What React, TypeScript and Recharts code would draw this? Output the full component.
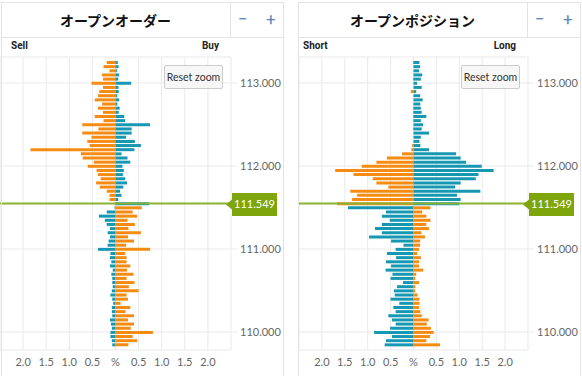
import { BarChart, Bar, XAxis, YAxis, CartesianGrid, ReferenceLine, Cell } from 'recharts';

// price buckets, top to bottom
const prices = [
  113.25, 113.2, 113.15, 113.1, 113.05, 113.0, 112.95, 112.9, 112.85, 112.8,
  112.75, 112.7, 112.65, 112.6, 112.55, 112.5, 112.45, 112.4, 112.35, 112.3,
  112.25, 112.2, 112.15, 112.1, 112.05, 112.0, 111.95, 111.9, 111.85, 111.8,
  111.75, 111.7, 111.65, 111.6, 111.55, 111.5, 111.45, 111.4, 111.35, 111.3,
  111.25, 111.2, 111.15, 111.1, 111.05, 111.0, 110.95, 110.9, 110.85, 110.8,
  110.75, 110.7, 110.65, 110.6, 110.55, 110.5, 110.45, 110.4, 110.35, 110.3,
  110.25, 110.2, 110.15, 110.1, 110.05, 110.0, 109.95, 109.9, 109.85,
];

const currentPrice = 111.549;

// open orders (%)
const orderSell = [
  0.19, 0.26, 0.13, 0.29, 0.27, 0.52, 0.27, 0.35, 0.38, 0.45,
  0.29, 0.38, 0.27, 0.45, 0.26, 0.72, 0.37, 0.72, 0.52, 0.61,
  0.56, 1.84, 0.75, 0.71, 0.47, 0.6, 0.41, 0.38, 0.32, 0.42,
  0.34, 0.19, 0.13, 0.13, 0.02, 0.02, 0.19, 0.36, 0.23, 0.19,
  0.12, 0.17, 0.12, 0.15, 0.17, 0.38, 0.11, 0.12, 0.09, 0.12,
  0.06, 0.09, 0.07, 0.07, 0.06, 0.08, 0.11, 0.07, 0.05, 0.08,
  0.08, 0.07, 0.12, 0.1, 0.08, 0.11, 0.11, 0.08, 0.07,
];
const orderBuy = [
  0.05, 0.065, 0.03, 0.08, 0.06, 0.34, 0.065, 0.07, 0.04, 0.08,
  0.04, 0.09, 0.07, 0.19, 0.21, 0.75, 0.35, 0.35, 0.23, 0.42,
  0.55, 0.41, 0.13, 0.26, 0.32, 0.15, 0.18, 0.16, 0.21, 0.25,
  0.17, 0.1, 0.13, 0.06, 0.73, 0.57, 0.37, 0.47, 0.26, 0.42,
  0.28, 0.55, 0.27, 0.4, 0.23, 0.75, 0.21, 0.24, 0.24, 0.32,
  0.25, 0.39, 0.24, 0.41, 0.29, 0.5, 0.24, 0.27, 0.11, 0.32,
  0.22, 0.4, 0.27, 0.4, 0.33, 0.81, 0.37, 0.47, 0.28,
];

// open positions (%)
const posShort = [
  0.01, 0, 0, 0, 0.01, 0, 0, 0.06, 0, 0,
  0, 0.01, 0.01, 0.01, 0.01, 0, 0.01, 0, 0, 0,
  0.03, 0.05, 0.25, 0.58, 0.81, 1.13, 1.71, 1.31, 0.89, 0.81,
  0.55, 1.38, 1.23, 1.34, 1.67, 1.43, 0.6, 0.69, 0.52, 0.69,
  0.84, 0.69, 0.97, 0.49, 0.22, 0.39, 0.58, 0.38, 0.6, 0.49,
  0.61, 0.46, 0.5, 0.23, 0.36, 0.43, 0.41, 0.5, 0.31, 0.44,
  0.39, 0.55, 0.47, 0.39, 0.51, 0.86, 0.47, 0.6, 0.63,
];
const posLong = [
  0.13, 0.145, 0.12, 0.19, 0.16, 0.08, 0.18, 0.06, 0.145, 0.2,
  0.15, 0.16, 0.18, 0.28, 0.16, 0.21, 0.18, 0.34, 0.16, 0.13,
  0.15, 0.34, 0.93, 1.03, 1.15, 1.49, 1.75, 1.42, 1.36, 1.03,
  0.91, 1.46, 0.95, 1.03, 1.0, 0.37, 0.19, 0.28, 0.37, 0.28,
  0.34, 0.17, 0.25, 0.145, 0.145, 0.12, 0.08, 0.16, 0.12, 0.12,
  0.21, 0.06, 0.04, 0.12, 0.04, 0.04, 0.09, 0.13, 0.13, 0.12,
  0.15, 0.18, 0.33, 0.29, 0.38, 0.44, 0.36, 0.28, 0.58,
];

const xTicks = [-2.5, -2, -1.5, -1, -0.5, 0, 0.5, 1, 1.5, 2, 2.5];
const yTicks = [110, 111, 112, 113];

const ORANGE = '#f68b12';
const BLUE = '#1698b2';
const GREEN = '#8ab235';
const TAG = '#7ea60c';
const GRID = '#e9e9e9';

const PriceTag = (props: any) => {
  const { viewBox } = props;
  const x = viewBox.x + viewBox.width;
  const y = viewBox.y + 1;
  return (
    <g>
      <path
        d={`M${x - 5},${y} L${x + 1},${y - 5} L${x + 1},${y - 11.5} L${x + 46},${y - 11.5} L${x + 46},${y + 11.5} L${x + 1},${y + 11.5} L${x + 1},${y + 5} Z`}
        fill={TAG}
      />
      <text x={x + 23.5} y={y + 4} textAnchor="middle" fill="#fff" fontSize={11} fontFamily="Lato, sans-serif">
        {currentPrice.toFixed(3)}
      </text>
    </g>
  );
};

const fmtX = (v: number) => (Math.abs(v) === 2.5 ? '' : v === 0 ? '%' : Math.abs(v).toFixed(1));

interface PanelProps {
  left: number;
  title: string;
  leftLabel: string;
  rightLabel: string;
  leftValues: number[];
  rightValues: number[];
}

const Panel = ({ left, title, leftLabel, rightLabel, leftValues, rightValues }: PanelProps) => {
  const data = prices.map((p, i) => ({ price: p, l: -leftValues[i], r: rightValues[i] }));
  const plotRight = left + 231;
  return (
    <>
      <div style={{ position: 'absolute', left: left, top: 0 }}>
        <BarChart
          width={285}
          height={376}
          data={data}
          layout="vertical"
          stackOffset="sign"
          margin={{ top: 57, right: 0, bottom: 0, left: left === 0 ? 0 : 2 }}
        >
          <CartesianGrid yAxisId="num" stroke={GRID} />
          <XAxis
            type="number"
            domain={[-2.5, 2.5]}
            allowDataOverflow
            ticks={xTicks}
            tickFormatter={fmtX}
            axisLine={false}
            tickLine={false}
            height={26}
            interval={0}
            tick={{ fill: '#666', fontSize: 11, fontFamily: 'Lato, sans-serif' }}
          />
          <YAxis yAxisId="cat" type="category" dataKey="price" hide padding={{ top: 3, bottom: 3.5 }} />
          <YAxis
            yAxisId="num"
            type="number"
            dataKey="price"
            scale="linear"
            reversed
            orientation="right"
            domain={[109.783, 113.313]}
            allowDataOverflow
            ticks={yTicks}
            interval={0}
            tickFormatter={(v: number) => v.toFixed(3)}
            axisLine={false}
            tickLine={{ stroke: GRID }}
            tickSize={6}
            tickMargin={3}
            width={54}
            tick={{ fill: '#666', fontSize: 11, fontFamily: 'Lato, sans-serif', textAnchor: 'start' }}
          />
          <Bar dataKey="l" stackId="s" yAxisId="cat" barSize={3} isAnimationActive={false}>
            {data.map((d) => (
              <Cell key={d.price} fill={d.price > currentPrice ? ORANGE : BLUE} />
            ))}
          </Bar>
          <Bar dataKey="r" stackId="s" yAxisId="cat" barSize={3} isAnimationActive={false}>
            {data.map((d) => (
              <Cell key={d.price} fill={d.price > currentPrice ? BLUE : ORANGE} />
            ))}
          </Bar>
          <ReferenceLine yAxisId="num" y={currentPrice} stroke={GREEN} strokeWidth={2} label={PriceTag} />
        </BarChart>
      </div>

      {/* panel frame and header */}
      <div style={{ position: 'absolute', left: left + 1, top: 2, width: 283, height: 400, border: '1px solid #e3e3e3', boxSizing: 'border-box', pointerEvents: 'none' }} />
      <div style={{ position: 'absolute', left: left + 1, top: 37, width: 283, height: 1, background: '#e3e3e3' }} />
      <div style={{ position: 'absolute', left: plotRight - 1, top: 2, width: 1, height: 35, background: '#e3e3e3' }} />
      <div
        style={{
          position: 'absolute', left: left + 1, top: 2, width: plotRight - left - 2, height: 35,
          display: 'flex', alignItems: 'center', justifyContent: 'center',
          fontFamily: '"Noto Sans CJK JP", sans-serif', fontWeight: 700, fontSize: 14, color: '#111',
        }}
      >
        {title}
      </div>
      <div style={{ position: 'absolute', left: plotRight + 7, top: 9, fontSize: 17, color: '#5a86b8', fontFamily: 'Roboto, sans-serif' }}>−</div>
      <div style={{ position: 'absolute', left: plotRight + 35, top: 9, fontSize: 17, color: '#5a86b8', fontFamily: 'Roboto, sans-serif' }}>+</div>
      <div style={{ position: 'absolute', left: left + (left === 0 ? 11 : 6), top: 40, fontSize: 10, fontWeight: 700, color: '#222', fontFamily: 'Roboto, sans-serif' }}>{leftLabel}</div>
      <div style={{ position: 'absolute', left: plotRight - 12, top: 40, fontSize: 10, fontWeight: 700, color: '#222', fontFamily: 'Roboto, sans-serif', transform: 'translateX(-100%)' }}>{rightLabel}</div>
      <div
        style={{
          position: 'absolute', left: plotRight - 67, top: 65, width: 59, height: 24, boxSizing: 'border-box',
          background: '#f7f7f7', border: '1px solid #cccccc', borderRadius: 2,
          display: 'flex', alignItems: 'center', justifyContent: 'center',
          fontSize: 10.5, color: '#333', fontFamily: 'Lato, sans-serif',
        }}
      >
        Reset zoom
      </div>
    </>
  );
};

export default function App() {
  return (
    <div style={{ position: 'absolute', left: 0, top: 0, width: 582, height: 376, overflow: 'hidden', background: '#fff' }}>
      <Panel left={0} title="オープンオーダー" leftLabel="Sell" rightLabel="Buy" leftValues={orderSell} rightValues={orderBuy} />
      <Panel left={297} title="オープンポジション" leftLabel="Short" rightLabel="Long" leftValues={posShort} rightValues={posLong} />
    </div>
  );
}
